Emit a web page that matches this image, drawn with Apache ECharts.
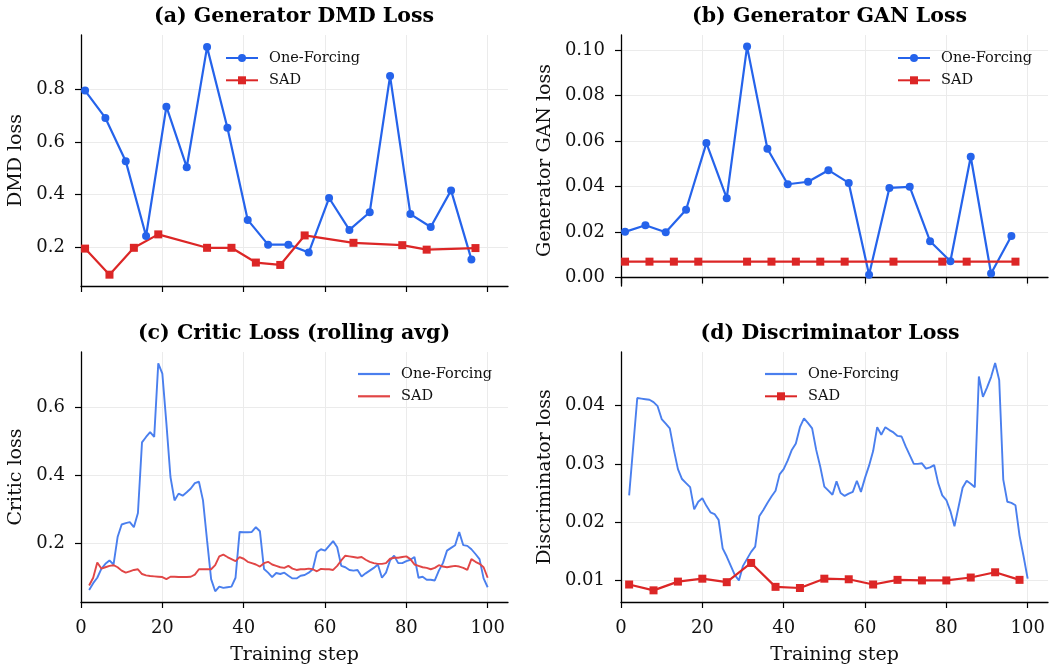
<!DOCTYPE html>
<html><head><meta charset="utf-8">
<script src="https://cdn.jsdelivr.net/npm/echarts@6/dist/echarts.min.js"></script>
<style>html,body{margin:0;padding:0;background:#fff}#c{width:1049px;height:667px}</style>
</head><body><div id="c"></div>
<script>
// ---- data ----
const dmdStepsOF = [1,6,11,16,21,26,31,36,41,46,51,56,61,66,71,76,81,86,91,96];
const dmdOF = [0.795,0.691,0.527,0.243,0.734,0.504,0.960,0.654,0.304,0.210,0.210,0.180,0.387,0.266,0.333,0.850,0.326,0.277,0.416,0.154];
const sadSteps = [1,7,13,19,31,37,43,49,55,67,79,85,97];
const dmdSAD = [0.195,0.096,0.198,0.249,0.198,0.198,0.142,0.133,0.245,0.217,0.208,0.191,0.197];
const ganStepsOF = dmdStepsOF;
const ganOF = [0.0201,0.0230,0.0199,0.0298,0.0591,0.0349,0.1015,0.0566,0.0410,0.0421,0.0472,0.0416,0.0012,0.0394,0.0399,0.0160,0.0072,0.0531,0.0018,0.0183];
const ganSAD = [0.007,0.007,0.007,0.007,0.007,0.007,0.007,0.007,0.007,0.007,0.007,0.007,0.007];
const criticSteps = Array.from({length:99},(_,i)=>i+2);
const criticOF = [0.062,0.082,0.098,0.124,0.139,0.149,0.137,0.218,0.255,0.259,
0.262,0.247,0.289,0.497,0.513,0.527,0.513,0.730,0.700,0.553,
0.395,0.326,0.346,0.340,0.350,0.361,0.377,0.381,0.326,0.208,
0.094,0.058,0.072,0.068,0.070,0.072,0.098,0.233,0.232,0.232,
0.233,0.247,0.235,0.124,0.113,0.100,0.112,0.109,0.113,0.104,
0.096,0.096,0.104,0.106,0.113,0.123,0.173,0.182,0.178,0.192,
0.206,0.188,0.133,0.129,0.121,0.119,0.121,0.102,0.111,0.119,
0.127,0.137,0.098,0.113,0.149,0.163,0.141,0.141,0.147,0.151,
0.159,0.098,0.101,0.092,0.092,0.090,0.119,0.141,0.178,0.186,
0.194,0.233,0.194,0.192,0.182,0.168,0.153,0.096,0.070];
const criticSAD = [0.075,0.098,0.143,0.125,0.129,0.133,0.135,0.129,0.119,0.113,
0.117,0.121,0.123,0.109,0.105,0.103,0.102,0.101,0.100,0.094,
0.101,0.101,0.100,0.100,0.100,0.101,0.107,0.123,0.123,0.123,
0.123,0.135,0.161,0.166,0.159,0.153,0.147,0.159,0.154,0.145,
0.141,0.137,0.131,0.141,0.145,0.137,0.133,0.129,0.127,0.133,
0.125,0.121,0.123,0.123,0.125,0.123,0.117,0.124,0.123,0.123,
0.121,0.133,0.149,0.163,0.161,0.159,0.157,0.159,0.151,0.145,
0.141,0.139,0.139,0.141,0.154,0.157,0.157,0.159,0.161,0.153,
0.137,0.133,0.129,0.127,0.123,0.127,0.135,0.131,0.129,0.131,
0.133,0.131,0.127,0.121,0.153,0.145,0.139,0.129,0.098];
const discStepsOF = [2].concat(Array.from({length:97},(_,i)=>i+4));
const discOF = [0.0246,0.0413,0.0412,0.0411,0.0410,0.0406,0.0399,0.0377,0.0369,0.0361,
0.0324,0.0291,0.0274,0.0267,0.0260,0.0222,0.0235,0.0241,0.0228,0.0217,
0.0214,0.0204,0.0155,0.0141,0.0125,0.0109,0.0100,0.0125,0.0137,0.0149,
0.0158,0.0210,0.0221,0.0233,0.0244,0.0254,0.0282,0.0291,0.0306,0.0324,
0.0335,0.0363,0.0378,0.0370,0.0361,0.0324,0.0295,0.0261,0.0254,0.0247,
0.0270,0.0250,0.0245,0.0249,0.0252,0.0271,0.0252,0.0276,0.0297,0.0322,
0.0363,0.0350,0.0363,0.0358,0.0354,0.0348,0.0347,0.0330,0.0315,0.0300,
0.0300,0.0301,0.0292,0.0294,0.0298,0.0267,0.0246,0.0238,0.0219,0.0193,
0.0226,0.0259,0.0271,0.0266,0.0260,0.0450,0.0415,0.0431,0.0449,0.0473,
0.0444,0.0273,0.0235,0.0233,0.0229,0.0177,0.0141,0.0103];
const discStepsSAD = [2,8,14,20,26,32,38,44,50,56,62,68,74,80,86,92,98];
const discSAD = [0.0093,0.0083,0.0098,0.0103,0.0097,0.0130,0.0089,0.0087,0.0103,0.0102,0.0093,0.0101,0.0100,0.0100,0.0105,0.0114,0.0101];
const xTicks = [0,20,40,60,80,100];
const yTicks = [[0.2,0.4,0.6,0.8],[0,0.02,0.04,0.06,0.08,0.10],[0.2,0.4,0.6],[0.01,0.02,0.03,0.04]];
const yRanges = [[0.053,1.006],[-0.0037,0.1066],[0.0265,0.7635],[0.0063,0.0492]];
const yDigits = [1,2,1,2];
const titles = ['(a) Generator DMD Loss','(b) Generator GAN Loss','(c) Critic Loss (rolling avg)','(d) Discriminator Loss'];
const yNames = ['DMD loss','Generator GAN loss','Critic loss','Discriminator loss'];
const xName = 'Training step';
const names = ['One-Forcing','SAD'];

// ---- chart ----
const FONT = 'DejaVu Serif';
const BLUE = '#2563eb', RED = '#dc2626', BLUE2 = '#4a7fee', RED2 = '#e14646';
const grids = [
  {left:81, top:35, width:427, height:251},
  {left:621, top:35, width:427, height:251},
  {left:81, top:352, width:427, height:250},
  {left:621, top:352, width:427, height:250}
];
const pair = (xs, ys) => xs.map((x,i)=>[x, ys[i]]);
const xAxes = grids.map((g,i)=>({
  type:'value', gridIndex:i, min:0, max:105,
  axisLine:{show:true, lineStyle:{color:'#000', width:1.3}},
  axisTick:{show:true, length:6, customValues:xTicks, lineStyle:{color:'#000', width:1.2}},
  axisLabel:{show:i>=2, customValues:xTicks, color:'#111', fontFamily:FONT, fontSize:18, margin:17},
  splitLine:{show:true, lineStyle:{color:'#ebebeb', width:1}},
  name: i>=2 ? xName : '', nameLocation:'middle', nameGap:44,
  nameTextStyle:{color:'#111', fontFamily:FONT, fontSize:19}
}));
const yAxes = grids.map((g,i)=>({
  type:'value', gridIndex:i, min:yRanges[i][0], max:yRanges[i][1],
  axisLine:{show:true, lineStyle:{color:'#000', width:1.3}},
  axisTick:{show:true, length:6, customValues:yTicks[i], lineStyle:{color:'#000', width:1.2}},
  axisLabel:{customValues:yTicks[i], color:'#111', fontFamily:FONT, fontSize:18, margin:16,
    formatter:v=>v.toFixed(yDigits[i])},
  splitLine:{show:true, lineStyle:{color:'#ebebeb', width:1}},
  name:yNames[i], nameLocation:'middle', nameRotate:90, nameGap: i%2===0 ? 55 : 66,
  nameTextStyle:{color:'#111', fontFamily:FONT, fontSize:19}
}));
const tag = ['#a','#b','#c','#d'];
const lineIcon = 'path://M0,0L32,0L32,2.2L0,2.2Z';
const series = [
  {name:names[0]+tag[0], type:'line', xAxisIndex:0, yAxisIndex:0, data:pair(dmdStepsOF, dmdOF),
   symbol:'circle', symbolSize:8, color:BLUE, lineStyle:{width:2.2}},
  {name:names[1]+tag[0], type:'line', xAxisIndex:0, yAxisIndex:0, data:pair(sadSteps, dmdSAD),
   symbol:'rect', symbolSize:8, color:RED, lineStyle:{width:2.2}},
  {name:names[0]+tag[1], type:'line', xAxisIndex:1, yAxisIndex:1, data:pair(ganStepsOF, ganOF),
   symbol:'circle', symbolSize:8, color:BLUE, lineStyle:{width:2.2}},
  {name:names[1]+tag[1], type:'line', xAxisIndex:1, yAxisIndex:1, data:pair(sadSteps, ganSAD),
   symbol:'rect', symbolSize:8, color:RED, lineStyle:{width:2.2}},
  {name:names[0]+tag[2], type:'line', xAxisIndex:2, yAxisIndex:2, data:pair(criticSteps, criticOF),
   symbol:'none', color:BLUE2, lineStyle:{width:1.9}},
  {name:names[1]+tag[2], type:'line', xAxisIndex:2, yAxisIndex:2, data:pair(criticSteps, criticSAD),
   symbol:'none', color:RED2, lineStyle:{width:1.9}},
  {name:names[0]+tag[3], type:'line', xAxisIndex:3, yAxisIndex:3, data:pair(discStepsOF, discOF),
   symbol:'none', color:BLUE2, lineStyle:{width:1.9}},
  {name:names[1]+tag[3], type:'line', xAxisIndex:3, yAxisIndex:3, data:pair(discStepsSAD, discSAD),
   symbol:'rect', symbolSize:8, color:RED, lineStyle:{width:2.2}}
].map(s=>Object.assign({animation:false, showAllSymbol:true, emphasis:{disabled:true}}, s));

const legendPos = [[225,50.5],[897,50.5],[358,366.5],[764,366.5]];
const legends = legendPos.map((p,i)=>({
  left:p[0], top:p[1], orient:'vertical', itemWidth:32, itemHeight:10, itemGap:7.3, padding:0,
  textStyle:{fontFamily:FONT, fontSize:14.5, color:'#111', padding:[0,0,0,6]},
  formatter:n=>n.split('#')[0],
  data: names.map((n,k)=>{
    const noSym = (i===2) || (i===3 && k===0);
    return noSym ? {name:n+tag[i], icon:lineIcon} : {name:n+tag[i]};
  })
}));
const titleCenters = [289, 824.5, 289, 825];
const titleOpts = grids.map((g,i)=>({
  text:titles[i], left:titleCenters[i], top: i<2 ? 1 : 318, textAlign:'center',
  textStyle:{fontFamily:FONT, fontWeight:'bold', fontSize:20.5, color:'#000'}
}));
const chart = echarts.init(document.getElementById('c'), null, {renderer:'canvas'});
chart.setOption({
  animation:false, backgroundColor:'#fff',
  title:titleOpts, legend:legends, grid:grids, xAxis:xAxes, yAxis:yAxes, series:series
});
</script></body></html>
